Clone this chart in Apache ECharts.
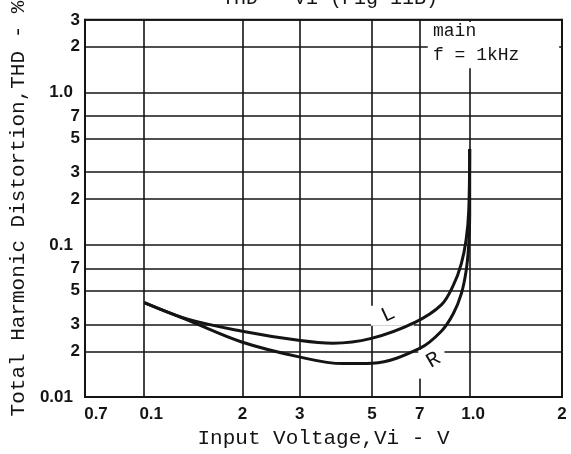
<!DOCTYPE html>
<html><head><meta charset="utf-8">
<script src="https://cdn.jsdelivr.net/npm/echarts@6/dist/echarts.min.js"></script>
<style>html,body{margin:0;padding:0;background:#fff}#c{width:571px;height:454px}</style>
</head><body><div id="c"></div>
<script>
// ---- data (log-log axes) ----
const xMin = 0.0658, xMax = 1.913;      // drawn extent of the Vi axis (V)
const yMin = 0.01, yMax = 3;            // drawn extent of the THD axis (%)
const xTickValues = [0.0658, 0.1, 0.2, 0.3, 0.5, 0.7, 1.0, 1.913];
const xTickLabels = ['0.7', '0.1', '2', '3', '5', '7', '1.0', '2'];
const yTickValues = [0.01, 0.02, 0.03, 0.05, 0.07, 0.1, 0.2, 0.3, 0.5, 0.7, 1.0, 2, 3];
const yTickLabels = ['0.01', '2', '3', '5', '7', '0.1', '2', '3', '5', '7', '1.0', '2', '3'];

const viL  = [0.100, 0.136, 0.198, 0.301, 0.379, 0.494, 0.677, 0.817, 0.888, 0.939, 0.972, 0.990, 0.9965];
const thdL = [0.0417, 0.0325, 0.0272, 0.0235, 0.0226, 0.0242, 0.0310, 0.0405, 0.0543, 0.0750, 0.1084, 0.1686, 0.426];
const viR  = [0.100, 0.136, 0.198, 0.301, 0.406, 0.501, 0.700, 0.817, 0.888, 0.939, 0.972, 0.990, 0.9965, 0.9965];
const thdR = [0.0417, 0.0320, 0.0231, 0.0183, 0.0166, 0.0167, 0.0209, 0.0272, 0.0354, 0.0476, 0.0677, 0.1007, 0.1566, 0.426];

const labelL = [0.560, 0.0349];
const labelR = [0.772, 0.0175];

// blank regions of the printed grid (under annotations), [x1,y1,x2,y2] in data units
const blankBoxes = [
  [0.741, 1.444, 1.875, 2.9],
  [0.496, 0.02946, 0.672, 0.0398],
  [0.693, 0.01322, 0.834, 0.0204]
];

const L10 = Math.log10;
const pairs = (xs, ys) => xs.map((x, i) => [L10(x), L10(ys[i])]);
const INK = '#141414';
const MONO = '"Liberation Mono", "DejaVu Sans Mono", monospace';
const SANS = '"Liberation Sans", Arial, sans-serif';

const xShift = {0: 22, 1: 14, 6: 6};
function fmtX(v) {
  for (let i = 0; i < xTickValues.length; i++) {
    if (Math.abs(L10(xTickValues[i]) - v) < 1e-6) {
      const s = xShift[i];
      return s ? '{p' + s + '|' + xTickLabels[i] + '}' : xTickLabels[i];
    }
  }
  return '';
}
function fmtY(v) {
  for (let i = 0; i < yTickValues.length; i++) {
    if (Math.abs(L10(yTickValues[i]) - v) < 1e-6) {
      const t = yTickLabels[i];
      return t.indexOf('.') >= 0 ? '{d|' + t + '}' : t;
    }
  }
  return '';
}
const lblStyle = {fontFamily: SANS, fontWeight: 'bold', fontSize: 17, color: INK};

const chart = echarts.init(document.getElementById('c'), null, {renderer: 'canvas'});
chart.setOption({
  backgroundColor: '#ffffff',
  animation: false,
  grid: {left: 79, right: 9, top: 14, bottom: 52, containLabel: false,
         show: true, borderColor: INK, borderWidth: 2, backgroundColor: 'rgba(0,0,0,0)'},
  xAxis: [{
    type: 'value', min: L10(xMin), max: L10(xMax),
    name: 'Input Voltage,Vi - V', nameLocation: 'middle', nameGap: 27,
    nameTextStyle: {fontFamily: MONO, fontSize: 21, color: INK},
    axisLine: {show: true, onZero: false, lineStyle: {color: INK, width: 2}},
    axisTick: {show: false, customValues: xTickValues.map(L10)},
    splitLine: {show: true, lineStyle: {color: INK, width: 1.6}},
    axisLabel: {
      customValues: xTickValues.map(L10), formatter: fmtX, margin: 9,
      ...lblStyle,
      rich: {
        p22: {...lblStyle, padding: [0, 0, 0, 22]},
        p14: {...lblStyle, padding: [0, 0, 0, 14]},
        p6: {...lblStyle, padding: [0, 0, 0, 6]}
      }
    }
  }],
  yAxis: [{
    type: 'value', min: L10(yMin), max: L10(yMax),
    name: 'Total Harmonic Distortion,THD - %', nameLocation: 'middle', nameGap: 46,
    nameTextStyle: {fontFamily: MONO, fontSize: 21, color: INK},
    axisLine: {show: true, onZero: false, lineStyle: {color: INK, width: 2}},
    axisTick: {show: false, customValues: yTickValues.map(L10)},
    splitLine: {show: true, lineStyle: {color: INK, width: 1.6}},
    axisLabel: {
      customValues: yTickValues.map(L10), formatter: fmtY, margin: 5,
      ...lblStyle,
      rich: {d: {...lblStyle, padding: [0, 7, 0, 0]}}
    }
  }, {
    type: 'value', position: 'right', min: L10(yMin), max: L10(yMax),
    axisLine: {show: true, onZero: false, lineStyle: {color: INK, width: 2}},
    axisTick: {show: false}, axisLabel: {show: false}, splitLine: {show: false}
  }],
  graphic: [
    {type: 'text', x: 330, y: -1, z: 10,
     style: {text: 'THD − Vi (Fig 11B)', font: '20px ' + MONO, fill: INK,
             align: 'center', verticalAlign: 'middle'}},
    {type: 'text', left: 433, top: 22, z: 10,
     style: {text: 'main', font: '18px ' + MONO, fill: INK}},
    {type: 'text', left: 433, top: 46, z: 10,
     style: {text: 'f = 1kHz', font: '18px ' + MONO, fill: INK}}
  ],
  series: [
    {
      type: 'line', name: 'blank', data: [], z: 1, silent: true,
      markArea: {
        silent: true,
        itemStyle: {color: '#ffffff', borderWidth: 0},
        data: blankBoxes.map(b => [{coord: [L10(b[0]), L10(b[1])]}, {coord: [L10(b[2]), L10(b[3])]}])
      }
    },
    {
      type: 'line', name: 'L', z: 5, data: pairs(viL, thdL), smooth: 0.35,
      showSymbol: false, lineStyle: {color: INK, width: 3}, itemStyle: {color: INK},
      markPoint: {
        symbol: 'circle', symbolSize: 1, itemStyle: {color: 'rgba(0,0,0,0)'},
        label: {show: true, position: 'inside', formatter: 'L', rotate: 25,
                fontFamily: MONO, fontSize: 21, color: INK},
        data: [{coord: [L10(labelL[0]), L10(labelL[1])]}]
      }
    },
    {
      type: 'line', name: 'R', z: 5, data: pairs(viR, thdR), smooth: 0.35,
      showSymbol: false, lineStyle: {color: INK, width: 3}, itemStyle: {color: INK},
      markPoint: {
        symbol: 'circle', symbolSize: 1, itemStyle: {color: 'rgba(0,0,0,0)'},
        label: {show: true, position: 'inside', formatter: 'R', rotate: 30,
                fontFamily: MONO, fontSize: 21, color: INK},
        data: [{coord: [L10(labelR[0]), L10(labelR[1])]}]
      }
    }
  ]
});
</script></body></html>
